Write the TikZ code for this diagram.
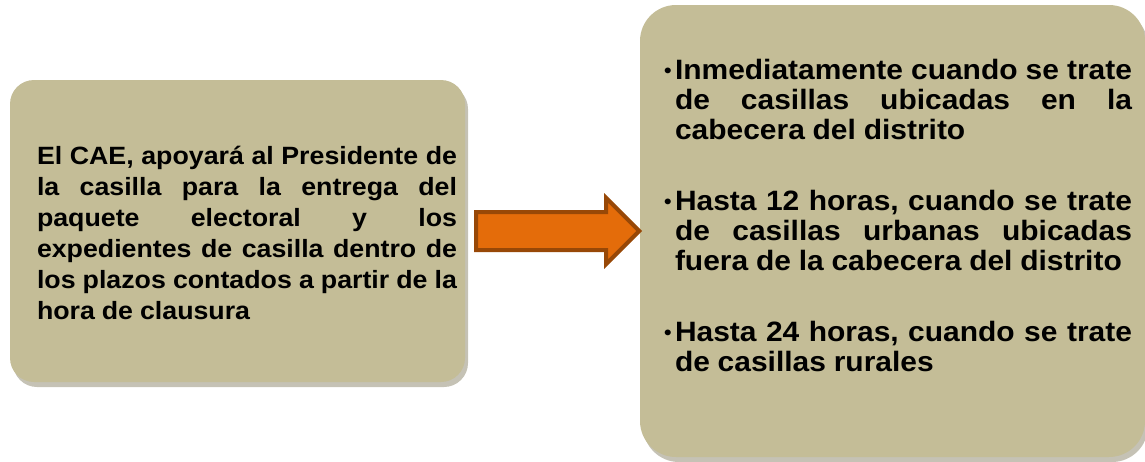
\documentclass[tikz,border=0pt]{standalone}
\usepackage{fontspec}
\setmainfont{Liberation Sans}[FakeStretch=1.07]
\usetikzlibrary{shapes.arrows,shadows}

\definecolor{boxtan}{HTML}{C4BD97}
\definecolor{boxshade}{HTML}{7E785A}
\definecolor{arrowfill}{HTML}{E46C0A}
\definecolor{arrowline}{HTML}{984807}

\newcommand{\bul}{\makebox[11pt][l]{\fontsize{20}{20}\selectfont\raisebox{2pt}{\textbullet}}}
\newcommand{\justset}{\bfseries\frenchspacing\spaceskip=.278em plus 4em\relax
    \hyphenpenalty=10000\relax\tolerance=10000\relax}

\begin{document}
\begin{tikzpicture}[x=1pt,y=-1pt,
    box/.style={fill=boxtan, inner sep=0pt,
        drop shadow={shadow xshift=3pt, shadow yshift=-5pt, fill=boxshade, opacity=.45}},
    txt/.style={inner sep=0pt, align=justify, anchor=north west}]
    \useasboundingbox (0,0) rectangle (1145,461);

    \node[box, rounded corners=24pt, minimum width=455pt, minimum height=302pt] (cae)  at (237.5,231) {};
    \node[box, rounded corners=36pt, minimum width=505pt, minimum height=452pt] (plazos) at (892.5,231) {};

    \node[single arrow, draw=arrowline, fill=arrowfill, line width=4pt,
          inner xsep=0pt, inner ysep=17pt, minimum height=163pt,
          single arrow head extend=14pt, single arrow head indent=0pt,
          anchor=tail, xshift=9pt] (flecha) at (cae.east) {};

    \node[txt, text width=420pt, xshift=27pt, yshift=-66pt,
          font=\fontsize{25}{31}\selectfont\justset] (caetxt) at (cae.north west)
        {El CAE, apoyará al Presidente de\linebreak la casilla para la entrega del\linebreak paquete electoral y los\linebreak expedientes de casilla dentro de\linebreak los plazos contados a partir de la\linebreak hora de clausura\par};

    \node[txt, text width=468pt, xshift=24pt, yshift=-54pt,
          font=\fontsize{28}{30}\selectfont\justset] (plazostxt) at (plazos.north west)
        {\parindent=0pt\relax\parskip=41pt\relax
         \hangindent=11pt\hangafter=1\relax\bul Inmediatamente cuando se trate\linebreak de casillas ubicadas en la\linebreak cabecera del distrito\par
         \hangindent=11pt\hangafter=1\relax\bul Hasta 12 horas, cuando se trate\linebreak de casillas urbanas ubicadas\linebreak fuera de la cabecera del distrito\par
         \hangindent=11pt\hangafter=1\relax\bul Hasta 24 horas, cuando se trate\linebreak de casillas rurales\par};
\end{tikzpicture}
\end{document}
